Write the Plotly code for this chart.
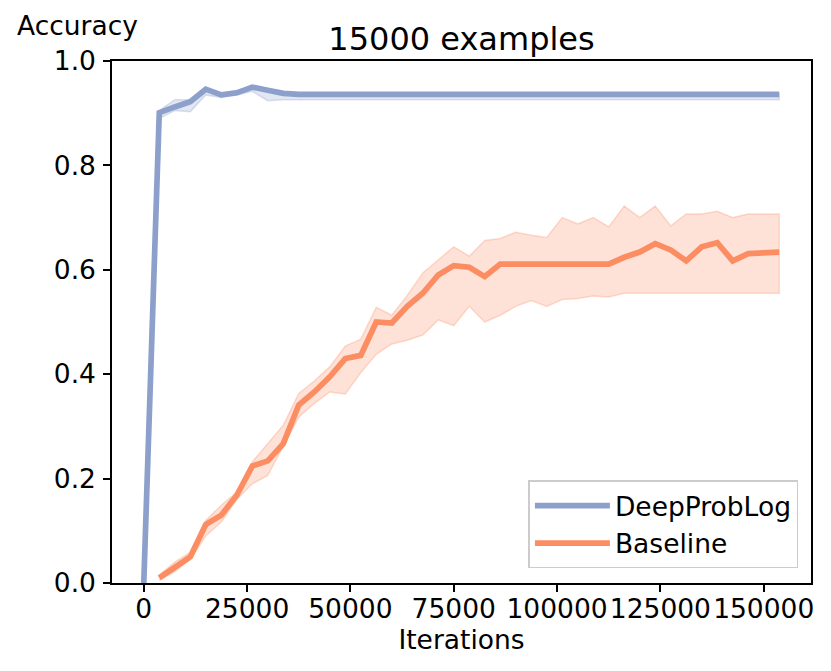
import plotly.graph_objects as go

# Iterations at which accuracy was logged
iterations = [0, 3750, 7500, 11250, 15000, 18750, 22500, 26250, 30000, 33750,
              37500, 41250, 45000, 48750, 52500, 56250, 60000, 63750, 67500, 71250,
              75000, 78750, 82500, 86250, 90000, 93750, 97500, 101250, 105000, 108750,
              112500, 116250, 120000, 123750, 127500, 131250, 135000, 138750, 142500, 146250,
              150000, 153750]

dpl_mean = [0.0, 0.901, 0.912, 0.922, 0.946, 0.935, 0.939, 0.950, 0.944, 0.938,
            0.936, 0.936, 0.936, 0.936, 0.936, 0.936, 0.936, 0.936, 0.936, 0.936,
            0.936, 0.936, 0.936, 0.936, 0.936, 0.936, 0.936, 0.936, 0.936, 0.936,
            0.936, 0.936, 0.936, 0.936, 0.936, 0.936, 0.936, 0.936, 0.936, 0.936,
            0.936, 0.936]
dpl_low = [0.0, 0.890, 0.905, 0.903, 0.935, 0.930, 0.935, 0.942, 0.924, 0.926,
           0.926, 0.926, 0.926, 0.926, 0.926, 0.926, 0.926, 0.926, 0.926, 0.926,
           0.926, 0.926, 0.926, 0.926, 0.926, 0.926, 0.926, 0.926, 0.926, 0.926,
           0.926, 0.926, 0.926, 0.926, 0.926, 0.926, 0.926, 0.926, 0.926, 0.926,
           0.926, 0.926]
dpl_high = [0.0, 0.905, 0.926, 0.926, 0.948, 0.938, 0.943, 0.952, 0.946, 0.940,
            0.937, 0.937, 0.937, 0.937, 0.937, 0.937, 0.937, 0.937, 0.937, 0.937,
            0.937, 0.937, 0.937, 0.937, 0.937, 0.937, 0.937, 0.937, 0.937, 0.937,
            0.937, 0.937, 0.937, 0.937, 0.937, 0.937, 0.937, 0.937, 0.937, 0.937,
            0.937, 0.937]

base_iterations = iterations[1:]
base_mean = [0.010, 0.030, 0.050, 0.112, 0.130, 0.168, 0.224, 0.234, 0.267, 0.341,
             0.366, 0.395, 0.430, 0.436, 0.500, 0.498, 0.530, 0.555, 0.590, 0.608,
             0.605, 0.587, 0.611, 0.611, 0.611, 0.611, 0.611, 0.611, 0.611, 0.611,
             0.624, 0.634, 0.650, 0.638, 0.617, 0.644, 0.652, 0.617, 0.631, 0.633,
             0.634]
base_low = [0.005, 0.022, 0.045, 0.090, 0.117, 0.160, 0.190, 0.206, 0.261, 0.318,
            0.344, 0.366, 0.362, 0.403, 0.438, 0.458, 0.465, 0.475, 0.504, 0.493,
            0.530, 0.500, 0.513, 0.530, 0.541, 0.530, 0.543, 0.545, 0.550, 0.548,
            0.555, 0.555, 0.555, 0.555, 0.555, 0.555, 0.555, 0.555, 0.555, 0.555,
            0.555]
base_high = [0.015, 0.040, 0.059, 0.120, 0.149, 0.174, 0.232, 0.267, 0.302, 0.363,
             0.387, 0.414, 0.454, 0.467, 0.528, 0.513, 0.551, 0.594, 0.619, 0.644,
             0.626, 0.656, 0.660, 0.672, 0.666, 0.662, 0.700, 0.688, 0.700, 0.682,
             0.722, 0.700, 0.722, 0.684, 0.707, 0.707, 0.712, 0.700, 0.707, 0.707,
             0.707]

x_ticks = [0, 25000, 50000, 75000, 100000, 125000, 150000]
y_ticks = [0.0, 0.2, 0.4, 0.6, 0.8, 1.0]

BLUE = "#8DA0CB"
ORANGE = "#FC8D62"
FONT = "DejaVu Sans"
FS = 26.5

# page body adds an 8px offset; the figure is sized so the plot lands where the reference has it
W, H = 823, 663
ML, MR, MT, MB = 104, 20, 53, 88
PW, PH = W - ML - MR, H - MT - MB

fig = go.Figure()

def band(xs, lo, hi, rgb):
    return go.Scatter(
        x=list(xs) + list(xs)[::-1],
        y=list(hi) + list(lo)[::-1],
        fill="toself",
        fillcolor=f"rgba({rgb},0.25)",
        line=dict(color=f"rgba({rgb},0.3)", width=1.5),
        mode="lines",
        hoverinfo="skip",
        showlegend=False,
    )

fig.add_trace(band(iterations, dpl_low, dpl_high, "141,160,203"))
fig.add_trace(go.Scatter(x=iterations, y=dpl_mean, mode="lines", name="DeepProbLog",
                         line=dict(color=BLUE, width=5.7)))
fig.add_trace(band(base_iterations, base_low, base_high, "252,141,98"))
fig.add_trace(go.Scatter(x=base_iterations, y=base_mean, mode="lines", name="Baseline",
                         line=dict(color=ORANGE, width=5.7)))

axis_common = dict(
    showgrid=False, zeroline=False,
    showline=True, linecolor="black", linewidth=1.5, mirror=True,
    ticks="outside", ticklen=7, tickwidth=1.5, tickcolor="black",
    tickfont=dict(family=FONT, size=FS, color="black"),
)

fig.update_layout(
    width=W, height=H,
    margin=dict(l=ML, r=MR, t=MT, b=MB),
    paper_bgcolor="white", plot_bgcolor="white",
    font=dict(family=FONT, size=FS, color="black"),
    title=dict(text="15000 examples", x=0.5, xref="paper", xanchor="center",
               y=1 - 31 / H, yref="container", yanchor="middle",
               font=dict(family=FONT, size=32, color="black")),
    xaxis=dict(range=[-7687.5, 161437.5], tickvals=x_ticks,
               ticktext=[str(v) for v in x_ticks],
               ticklabelstandoff=-6,
               title=dict(text="Iterations", standoff=4,
                          font=dict(family=FONT, size=FS, color="black")),
               **axis_common),
    yaxis=dict(range=[0, 1], tickvals=y_ticks,
               ticktext=[f"{v:.1f}" for v in y_ticks],
               ticklabelstandoff=2,
               **axis_common),
    legend=dict(x=0.982, y=0.028, xanchor="right", yanchor="bottom",
                itemwidth=75,
                bgcolor="rgba(255,255,255,0.8)", bordercolor="#cccccc", borderwidth=1.5,
                font=dict(family=FONT, size=FS, color="black")),
    annotations=[dict(text="Accuracy", xref="paper", yref="paper",
                      x=(7 - ML) / PW, y=(MT + PH - 17) / PH,
                      xanchor="left", yanchor="middle", showarrow=False,
                      font=dict(family=FONT, size=FS, color="black"))],
)

fig.write_html("out.html")
